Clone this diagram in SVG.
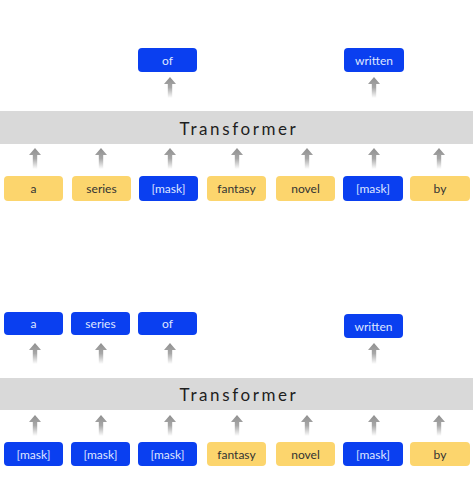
<svg xmlns="http://www.w3.org/2000/svg" width="473" height="477" viewBox="0 0 473 477">
<defs>
<linearGradient id="fade" x1="0" y1="0" x2="0" y2="1">
<stop offset="0" stop-color="#8f8f8f"/>
<stop offset="0.5" stop-color="#a8a8a8"/>
<stop offset="1" stop-color="#ffffff"/>
</linearGradient>
<path id="arr" d="M0,0 L6,7 L2.2,7 L2.2,21 L-2.2,21 L-2.2,7 L-6,7 Z" fill="url(#fade)"/>
</defs>
<style>
.blue{fill:#0a3ff0}
.yel{fill:#fcd56d}
.band{fill:#d9d9d9}
text{font-family:Lato,"DejaVu Sans",sans-serif;font-size:12px;text-anchor:middle;dominant-baseline:central}
.tw{fill:#dfe6ff}
.td{fill:#333333}
.tt{font-size:17px;letter-spacing:2.6px;fill:#1e1e1e}
</style>
<rect width="473" height="477" fill="#ffffff"/>

<rect class="band" x="0" y="111" width="473" height="33"/>
<text class="tt" x="239" y="128">Transformer</text>
<rect class="band" x="0" y="378" width="473" height="32"/>
<text class="tt" x="239" y="394">Transformer</text>

<g id="connectors">
<use href="#arr" x="170" y="77"/>
<use href="#arr" x="374" y="77"/>
<use href="#arr" x="35" y="148"/>
<use href="#arr" x="101" y="148"/>
<use href="#arr" x="170" y="148"/>
<use href="#arr" x="237" y="148"/>
<use href="#arr" x="307" y="148"/>
<use href="#arr" x="374" y="148"/>
<use href="#arr" x="439" y="148"/>
<use href="#arr" x="35" y="343"/>
<use href="#arr" x="101" y="343"/>
<use href="#arr" x="170" y="343"/>
<use href="#arr" x="374" y="343"/>
<use href="#arr" x="35" y="415"/>
<use href="#arr" x="101" y="415"/>
<use href="#arr" x="170" y="415"/>
<use href="#arr" x="237" y="415"/>
<use href="#arr" x="307" y="415"/>
<use href="#arr" x="374" y="415"/>
<use href="#arr" x="439" y="415"/>
</g>

<g id="t-of"><rect class="blue" x="138" y="48" width="59" height="24" rx="4"/><text class="tw" x="167.5" y="60">of</text></g>
<g id="t-written"><rect class="blue" x="344" y="48" width="60" height="24" rx="4"/><text class="tw" x="374" y="60">written</text></g>

<g id="i-a"><rect class="yel" x="4" y="176" width="59" height="25" rx="4"/><text class="td" x="33.5" y="188.5">a</text></g>
<g id="i-series"><rect class="yel" x="72" y="176" width="59" height="25" rx="4"/><text class="td" x="101.5" y="188.5">series</text></g>
<g id="i-mask1"><rect class="blue" x="139" y="176" width="59" height="25" rx="4"/><text class="tw" x="168.5" y="188.5">[mask]</text></g>
<g id="i-fantasy"><rect class="yel" x="207" y="176" width="59" height="25" rx="4"/><text class="td" x="236.5" y="188.5">fantasy</text></g>
<g id="i-novel"><rect class="yel" x="276" y="176" width="59" height="25" rx="4"/><text class="td" x="305.5" y="188.5">novel</text></g>
<g id="i-mask2"><rect class="blue" x="343" y="176" width="60" height="25" rx="4"/><text class="tw" x="373" y="188.5">[mask]</text></g>
<g id="i-by"><rect class="yel" x="410" y="176" width="60" height="25" rx="4"/><text class="td" x="440" y="188.5">by</text></g>

<g id="o-a"><rect class="blue" x="4" y="312" width="59" height="23" rx="4"/><text class="tw" x="33.5" y="323.5">a</text></g>
<g id="o-series"><rect class="blue" x="71" y="312" width="59" height="23" rx="4"/><text class="tw" x="100.5" y="323.5">series</text></g>
<g id="o-of"><rect class="blue" x="138" y="312" width="59" height="23" rx="4"/><text class="tw" x="167.5" y="323.5">of</text></g>
<g id="o-written"><rect class="blue" x="344" y="314" width="59" height="24" rx="4"/><text class="tw" x="373.5" y="326">written</text></g>

<g id="j-mask1"><rect class="blue" x="4" y="442" width="59" height="24" rx="4"/><text class="tw" x="33.5" y="454">[mask]</text></g>
<g id="j-mask2"><rect class="blue" x="71" y="442" width="59" height="24" rx="4"/><text class="tw" x="100.5" y="454">[mask]</text></g>
<g id="j-mask3"><rect class="blue" x="138" y="442" width="59" height="24" rx="4"/><text class="tw" x="167.5" y="454">[mask]</text></g>
<g id="j-fantasy"><rect class="yel" x="207" y="442" width="59" height="24" rx="4"/><text class="td" x="236.5" y="454">fantasy</text></g>
<g id="j-novel"><rect class="yel" x="276" y="442" width="59" height="24" rx="4"/><text class="td" x="305.5" y="454">novel</text></g>
<g id="j-mask4"><rect class="blue" x="343" y="442" width="60" height="24" rx="4"/><text class="tw" x="373" y="454">[mask]</text></g>
<g id="j-by"><rect class="yel" x="410" y="442" width="60" height="24" rx="4"/><text class="td" x="440" y="454">by</text></g>
</svg>
